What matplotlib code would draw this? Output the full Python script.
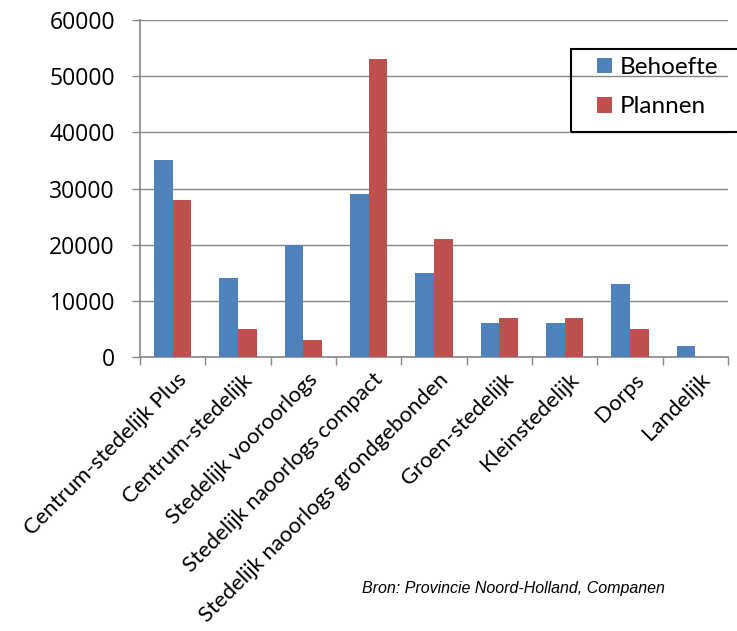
import matplotlib
matplotlib.use("Agg")
import matplotlib.pyplot as plt
import matplotlib.transforms as mtransforms
from matplotlib.patches import Rectangle
import numpy as np

categories = ["Centrum-stedelijk Plus", "Centrum-stedelijk", "Stedelijk vooroorlogs",
              "Stedelijk naoorlogs compact", "Stedelijk naoorlogs grondgebonden",
              "Groen-stedelijk", "Kleinstedelijk", "Dorps", "Landelijk"]
behoefte = [35000, 14000, 20000, 29000, 15000, 6000, 6000, 13000, 2000]
plannen = [28000, 5000, 3000, 53000, 21000, 7000, 7000, 5000, 0]
yticks = [0, 10000, 20000, 30000, 40000, 50000, 60000]
source = "Bron: Provincie Noord-Holland, Companen"

plt.rcParams['font.family'] = ['Lato', 'DejaVu Sans']

W, H = 737, 631
fig = plt.figure(figsize=(W / 100, H / 100), dpi=100)
ax = fig.add_axes([140 / W, 1 - 357 / H, (728 - 140) / W, (357 - 20) / H])

x = np.arange(len(categories))
bw = 1 / 3.5
blue = "#4F81BD"
red = "#C0504D"
ax.bar(x - bw / 2, behoefte, bw, color=blue, label="Behoefte", zorder=3)
ax.bar(x + bw / 2, plannen, bw, color=red, label="Plannen", zorder=3)

ax.set_xlim(-0.5, len(categories) - 0.5)
ax.set_ylim(0, 60000)
ax.set_yticks(yticks)
ax.set_yticklabels([str(v) for v in yticks], fontsize=16.5, family=["Open Sans", "DejaVu Sans"])
grid_c = "#878787"
ax.yaxis.grid(True, color=grid_c, linewidth=1.0, zorder=0)
ax.set_axisbelow(True)

for s in ["top", "right"]:
    ax.spines[s].set_visible(False)
for s in ["left", "bottom"]:
    ax.spines[s].set_color(grid_c)
    ax.spines[s].set_linewidth(1.2)

ax.tick_params(axis="y", length=6, width=1.0, color=grid_c, pad=12, labelcolor="black")
ax.set_xticks(x)
ax.set_xticks(np.arange(len(categories) + 1) - 0.5, minor=True)
ax.tick_params(axis="x", which="major", length=0, pad=9)
ax.tick_params(axis="x", which="minor", length=6, width=1.0, color=grid_c)
labels = ax.set_xticklabels(categories, fontsize=15.9, rotation=45, ha="right",
                            va="top", rotation_mode="anchor")
offset = mtransforms.ScaledTranslation(4 / 100, 0, fig.dpi_scale_trans)
for lab in labels:
    lab.set_transform(lab.get_transform() + offset)

# legend entries (no frame) and a separate frame rectangle
leg = fig.legend(loc="upper left", bbox_to_anchor=(597 / W, 1 - 57 / H),
                 fontsize=17.5, frameon=False,
                 handlelength=0.62, handleheight=0.62, handletextpad=0.3,
                 labelspacing=0.75, borderpad=0, borderaxespad=0)
frame = Rectangle((571 / W, 1 - 132 / H), (745 - 571) / W, (132 - 49) / H,
                  transform=fig.transFigure, fill=False, edgecolor="black",
                  linewidth=1.5, clip_on=False)
fig.patches.append(frame)

fig.text(362 / W, 1 - 588 / H, source, fontsize=11.5, style="italic",
         family="Liberation Sans", va="center", ha="left")

fig.savefig("out.png", dpi=100)
